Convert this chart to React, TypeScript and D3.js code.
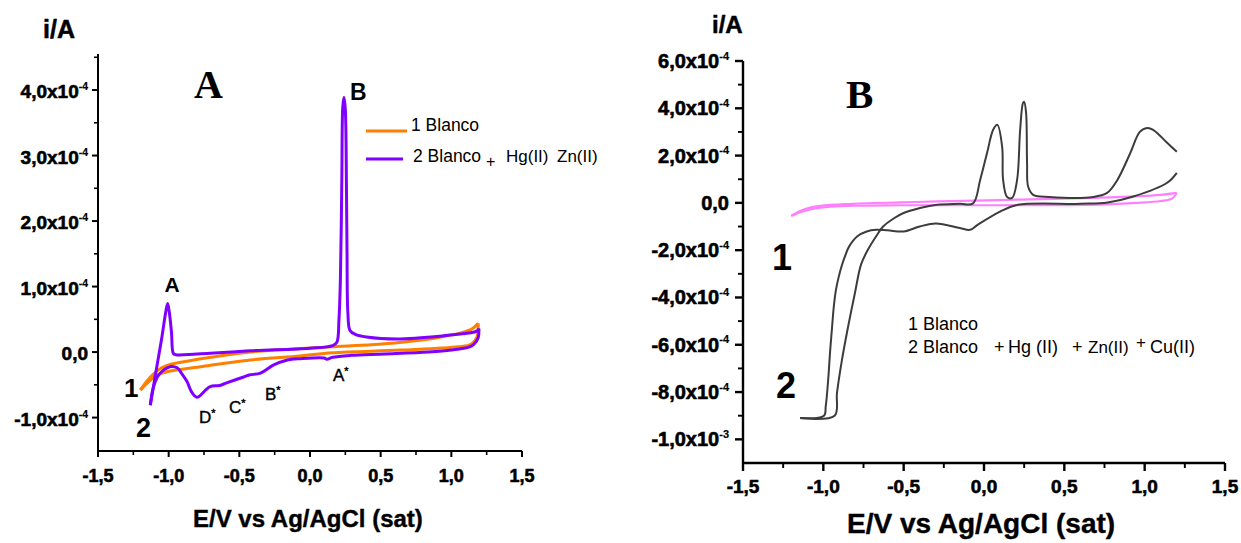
import React from 'react';
import * as d3 from 'd3';

const FONT = '"Liberation Sans", Arial, Helvetica, sans-serif';
const SERIF = '"Liberation Serif", "Times New Roman", serif';

// ---------- Panel A (E in V, i in 1e-4 A) ----------
const aBlancoFwd: [number, number][] = [
  [-1.2, -0.58], [-1.16, -0.46], [-1.11, -0.34], [-1.05, -0.24], [-0.99, -0.19], [-0.87, -0.14],
  [-0.7, -0.08], [-0.42, 0.0], [0.16, 0.08], [0.6, 0.14], [0.9, 0.22], [1.08, 0.3], [1.15, 0.36], [1.19, 0.44],
];
const aBlancoRev: [number, number][] = [
  [1.19, 0.44], [1.18, 0.22], [1.14, 0.12], [1.05, 0.08], [0.64, 0.03], [0.16, -0.01], [-0.07, -0.06],
  [-0.42, -0.12], [-0.76, -0.22], [-0.99, -0.29], [-1.08, -0.35], [-1.14, -0.45], [-1.2, -0.58],
];
const aMetalFwd: [number, number][] = [
  [-1.13, -0.81], [-1.09, -0.3], [-1.05, 0.2], [-1.02, 0.62], [-1.007, 0.74], [-0.995, 0.6], [-0.98, 0.3],
  [-0.967, -0.02], [-0.95, -0.04], [-0.8, -0.03], [-0.42, 0.02], [0.0, 0.06], [0.16, 0.1], [0.19, 0.15],
  [0.205, 0.5], [0.215, 1.1], [0.225, 2.58], [0.232, 3.74], [0.241, 3.89], [0.25, 3.7], [0.258, 2.5],
  [0.262, 1.51], [0.268, 0.6], [0.283, 0.33], [0.32, 0.27], [0.4, 0.23], [0.64, 0.2], [0.99, 0.26],
  [1.18, 0.32], [1.195, 0.36],
];
const aMetalRev: [number, number][] = [
  [1.195, 0.36], [1.19, 0.22], [1.16, 0.12], [1.13, 0.08], [1.0, 0.03], [0.84, 0.0], [0.53, -0.03],
  [0.29, -0.05], [0.16, -0.08], [0.12, -0.11], [0.1, -0.09], [-0.07, -0.1], [-0.16, -0.12], [-0.26, -0.2],
  [-0.35, -0.32], [-0.43, -0.35], [-0.47, -0.38], [-0.59, -0.47], [-0.64, -0.51], [-0.71, -0.53],
  [-0.8, -0.69], [-0.84, -0.6], [-0.87, -0.45], [-0.91, -0.32], [-0.94, -0.24], [-0.98, -0.22],
  [-1.01, -0.24], [-1.05, -0.3], [-1.08, -0.38], [-1.11, -0.55], [-1.13, -0.81],
];

// ---------- Panel B (E in V, i in 1e-4 A) ----------
const bBlancoFwd: [number, number][] = [
  [-1.2, -0.55], [-1.13, -0.36], [-1.02, -0.2], [-0.82, -0.12], [-0.52, -0.1], [0.1, -0.1], [0.72, -0.07],
  [0.95, 0.0], [1.1, 0.08], [1.17, 0.18], [1.2, 0.42],
];
const bBlancoRev: [number, number][] = [
  [1.2, 0.42], [1.1, 0.34], [0.72, 0.22], [0.1, 0.12], [-0.29, 0.06], [-0.52, 0.02], [-0.82, -0.04],
  [-1.02, -0.13], [-1.13, -0.3], [-1.2, -0.55],
];
const bMetalFwd: [number, number][] = [
  [-1.145, -9.1], [-0.93, -9.0], [-0.915, -8.03], [-0.884, -6.64], [-0.846, -5.24], [-0.803, -3.8],
  [-0.765, -2.6], [-0.72, -1.95], [-0.67, -1.4], [-0.628, -1.0], [-0.56, -0.65], [-0.504, -0.44],
  [-0.398, -0.22], [-0.292, -0.08], [-0.15, -0.04], [-0.068, -0.02], [-0.024, 0.97], [0.019, 2.11],
  [0.057, 3.09], [0.083, 3.3], [0.113, 2.37], [0.119, 0.97], [0.144, 0.25], [0.175, 0.21], [0.206, 0.97],
  [0.225, 3.09], [0.243, 4.23], [0.25, 4.27], [0.262, 3.8], [0.268, 1.69], [0.275, 0.68], [0.306, 0.34],
  [0.405, 0.25], [0.68, 0.25], [0.766, 0.42], [0.83, 0.97], [0.91, 2.1], [0.97, 3.0], [1.016, 3.17],
  [1.053, 3.09], [1.14, 2.54], [1.2, 2.16],
];
const bMetalRev: [number, number][] = [
  [1.2, 1.27], [1.14, 0.85], [0.93, 0.27], [0.77, 0.02], [0.6, -0.04], [0.21, -0.08], [0.1, -0.37],
  [-0.04, -0.93], [-0.087, -1.14], [-0.15, -1.06], [-0.3, -0.87], [-0.4, -1.0], [-0.5, -1.21],
  [-0.6, -1.16], [-0.67, -1.14], [-0.73, -1.21], [-0.79, -1.42], [-0.84, -1.85], [-0.862, -2.2],
  [-0.885, -2.65], [-0.905, -3.15], [-0.922, -3.7], [-0.935, -4.4], [-0.945, -5.2], [-0.958, -6.3],
  [-0.97, -7.5], [-0.985, -8.6], [-0.996, -9.0], [-1.145, -9.1],
];

// ---------- Ticks ----------
const xTickValues = [-1.5, -1, -0.5, 0, 0.5, 1, 1.5];
const xTickLabels = ['-1,5', '-1,0', '-0,5', '0,0', '0,5', '1,0', '1,5'];
const xMinorValues = [-1.25, -0.75, -0.25, 0.25, 0.75, 1.25];

const aYTickValues = [-1, 0, 1, 2, 3, 4];
const aYTickMantissa = ['-1,0x10', '0,0', '1,0x10', '2,0x10', '3,0x10', '4,0x10'];
const aYTickExp = ['-4', '', '-4', '-4', '-4', '-4'];
const aYMinorValues = [-1.5, -0.5, 0.5, 1.5, 2.5, 3.5, 4.5];

const bYTickValues = [-10, -8, -6, -4, -2, 0, 2, 4, 6];
const bYTickMantissa = ['-1,0x10', '-8,0x10', '-6,0x10', '-4,0x10', '-2,0x10', '0,0', '2,0x10', '4,0x10', '6,0x10'];
const bYTickExp = ['-3', '-4', '-4', '-4', '-4', '', '-4', '-4', '-4'];
const bYMinorValues = [-11, -9, -7, -5, -3, -1, 1, 3, 5];

type Pt = [number, number];

function Axes(props: {
  xs: d3.ScaleLinear<number, number>;
  ys: d3.ScaleLinear<number, number>;
  yTicks: number[];
  yMant: string[];
  yExp: string[];
  yMinor: number[];
  majorLen: number;
  minorLen: number;
  axisW: number;
  yLabelEnd: number;
  yLabelDy: number;
  yFont: number;
  xLabelY: number;
  xFont: number;
}) {
  const { xs, ys } = props;
  const [x0, x1] = xs.range();
  const [y0, y1] = ys.range();
  return (
    <g>
      <line x1={x0} x2={x0} y1={y0} y2={y1} stroke="#000" strokeWidth={props.axisW} />
      <line x1={x0} x2={x1} y1={y0} y2={y0} stroke="#000" strokeWidth={props.axisW} />
      {props.yTicks.map((v, i) => (
        <g key={'yt' + i}>
          <line x1={x0 - props.majorLen} x2={x0} y1={ys(v)} y2={ys(v)} stroke="#000" strokeWidth={props.axisW} />
          <text x={props.yLabelEnd} y={ys(v) + props.yLabelDy} textAnchor="end" fontFamily={FONT}
            fontWeight="bold" fontSize={props.yFont} fill="#000" stroke="#000" strokeWidth={0.6}>
            {props.yMant[i]}
            {props.yExp[i] ? (
              <tspan fontSize={props.yFont * 0.55} strokeWidth={0.2} dy={-props.yFont * 0.42}>{props.yExp[i]}</tspan>
            ) : null}
          </text>
        </g>
      ))}
      {props.yMinor.filter((v) => ys(v) <= y0 - 2 && ys(v) >= y1).map((v, i) => (
        <line key={'ym' + i} x1={x0 - props.minorLen} x2={x0} y1={ys(v)} y2={ys(v)} stroke="#000" strokeWidth={props.axisW * 0.8} />
      ))}
      {xTickValues.map((v, i) => (
        <g key={'xt' + i}>
          <line x1={xs(v)} x2={xs(v)} y1={y0} y2={y0 + props.majorLen} stroke="#000" strokeWidth={props.axisW} />
          <text x={xs(v)} y={props.xLabelY} textAnchor="middle" fontFamily={FONT} fontWeight="bold"
            fontSize={props.xFont} fill="#000" stroke="#000" strokeWidth={0.6}>{xTickLabels[i]}</text>
        </g>
      ))}
      {xMinorValues.map((v, i) => (
        <line key={'xm' + i} x1={xs(v)} x2={xs(v)} y1={y0} y2={y0 + props.minorLen} stroke="#000" strokeWidth={props.axisW * 0.8} />
      ))}
    </g>
  );
}

export default function App() {
  // Panel A scales
  const axs = d3.scaleLinear().domain([-1.5, 1.5]).range([98, 522]);
  const ays = d3.scaleLinear().domain([-1.51, 4.55]).range([451, 54]);
  // Panel B scales
  const bxs = d3.scaleLinear().domain([-1.5, 1.5]).range([743, 1225]);
  const bys = d3.scaleLinear().domain([-11, 6]).range([463, 61]);

  const lineA = d3.line<Pt>().x((d) => axs(d[0])).y((d) => ays(d[1])).curve(d3.curveCatmullRom.alpha(0.5));
  const lineB = d3.line<Pt>().x((d) => bxs(d[0])).y((d) => bys(d[1])).curve(d3.curveCatmullRom.alpha(0.5));

  const orange = '#FF7F00';
  const purple = '#7F00FF';
  const pink = '#FF80FF';
  const gray = '#3C3C3C';

  return (
    <svg width={1241} height={543} style={{ position: 'absolute', left: 0, top: 0, background: '#fff' }}>
      <rect x={0} y={0} width={1241} height={543} fill="#fff" />

      {/* ---------------- Panel A ---------------- */}
      <Axes xs={axs} ys={ays} yTicks={aYTickValues} yMant={aYTickMantissa} yExp={aYTickExp} yMinor={aYMinorValues}
        majorLen={6} minorLen={4} axisW={2} yLabelEnd={88} yLabelDy={8} yFont={19} xLabelY={482} xFont={18} />
      <path d={lineA(aBlancoFwd) || ''} fill="none" stroke={orange} strokeWidth={3} strokeLinejoin="round" />
      <path d={lineA(aBlancoRev) || ''} fill="none" stroke={orange} strokeWidth={3} strokeLinejoin="round" />
      <path d={lineA(aMetalFwd) || ''} fill="none" stroke={purple} strokeWidth={3} strokeLinejoin="round" />
      <path d={lineA(aMetalRev) || ''} fill="none" stroke={purple} strokeWidth={3} strokeLinejoin="round" />

      <text x={43} y={38} fontFamily={FONT} fontWeight="bold" fontSize={25} stroke="#000" strokeWidth={0.5}>i/A</text>
      <text x={194} y={98} fontFamily={SERIF} fontWeight="bold" fontSize={40}>A</text>
      <text x={172} y={292} textAnchor="middle" fontFamily={FONT} fontWeight="bold" fontSize={21}>A</text>
      <text x={350} y={100} fontFamily={FONT} fontWeight="bold" fontSize={23}>B</text>
      <text x={124} y={397} fontFamily={FONT} fontWeight="bold" fontSize={26}>1</text>
      <text x={136} y={437} fontFamily={FONT} fontWeight="bold" fontSize={27}>2</text>
      {[
        ['D', 199, 423],
        ['C', 229, 413],
        ['B', 265, 400],
        ['A', 333, 381],
      ].map(([t, x, y]) => (
        <text key={String(t)} x={Number(x)} y={Number(y)} fontFamily={FONT} fontSize={17} stroke="#000" strokeWidth={0.4}>
          {t}
          <tspan fontSize={11} dy={-6}>*</tspan>
        </text>
      ))}
      {/* legend A */}
      <line x1={366} x2={407} y1={131} y2={131} stroke={orange} strokeWidth={3} />
      <text x={411} y={131} fontFamily={FONT} fontSize={17.5}>1 Blanco</text>
      <line x1={366} x2={403} y1={159} y2={159} stroke={purple} strokeWidth={3} />
      <text x={413} y={162} fontFamily={FONT} fontSize={17.5}>2 Blanco</text>
      <text x={486} y={167} fontFamily={FONT} fontSize={16}>+</text>
      <text x={506} y={162} fontFamily={FONT} fontSize={17}>Hg(II)</text>
      <text x={557} y={162} fontFamily={FONT} fontSize={17}>Zn(II)</text>
      <text x={193} y={527} fontFamily={FONT} fontWeight="bold" fontSize={24} stroke="#000" strokeWidth={0.4}>E/V vs Ag/AgCl (sat)</text>

      {/* ---------------- Panel B ---------------- */}
      <Axes xs={bxs} ys={bys} yTicks={bYTickValues} yMant={bYTickMantissa} yExp={bYTickExp} yMinor={bYMinorValues}
        majorLen={8} minorLen={5} axisW={2.4} yLabelEnd={729} yLabelDy={7} yFont={20} xLabelY={493} xFont={19} />
      <path d={lineB(bBlancoFwd) || ''} fill="none" stroke={pink} strokeWidth={2.2} strokeLinejoin="round" />
      <path d={lineB(bBlancoRev) || ''} fill="none" stroke={pink} strokeWidth={2.2} strokeLinejoin="round" />
      <path d={lineB(bMetalFwd) || ''} fill="none" stroke={gray} strokeWidth={2} strokeLinejoin="round" />
      <path d={lineB(bMetalRev) || ''} fill="none" stroke={gray} strokeWidth={2} strokeLinejoin="round" />

      <text x={712} y={33} fontFamily={FONT} fontWeight="bold" fontSize={24} stroke="#000" strokeWidth={0.5}>i/A</text>
      <text x={846} y={108} fontFamily={SERIF} fontWeight="bold" fontSize={41}>B</text>
      <text x={772} y={270} fontFamily={FONT} fontWeight="bold" fontSize={36}>1</text>
      <text x={776} y={398} fontFamily={FONT} fontWeight="bold" fontSize={36}>2</text>
      {/* legend B */}
      <text x={908} y={330} fontFamily={FONT} fontSize={18}>1 Blanco</text>
      <text x={908} y={353} fontFamily={FONT} fontSize={18}>2 Blanco</text>
      <text x={994} y={353} fontFamily={FONT} fontSize={18}>+</text>
      <text x={1008} y={353} fontFamily={FONT} fontSize={18}>Hg (II)</text>
      <text x={1072} y={353} fontFamily={FONT} fontSize={18}>+</text>
      <text x={1088} y={353} fontFamily={FONT} fontSize={17}>Zn(II)</text>
      <text x={1136} y={348} fontFamily={FONT} fontSize={17}>+</text>
      <text x={1150} y={353} fontFamily={FONT} fontSize={18}>Cu(II)</text>
      <text x={847} y={533} fontFamily={FONT} fontWeight="bold" fontSize={28} stroke="#000" strokeWidth={0.4}>E/V vs Ag/AgCl (sat)</text>
    </svg>
  );
}
